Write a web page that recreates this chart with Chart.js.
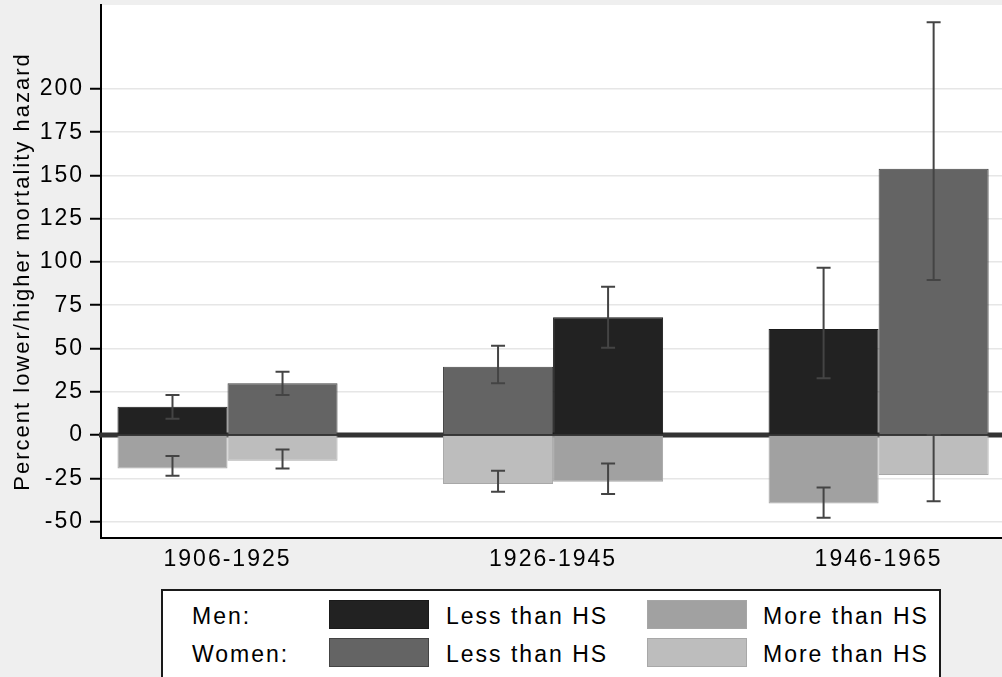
<!DOCTYPE html>
<html>
<head>
<meta charset="utf-8">
<script src="https://cdn.jsdelivr.net/npm/chart.js@4.4.1/dist/chart.umd.min.js"></script>
<style>
    body { margin: 0; background: #efefef; overflow: hidden; font-family: "Liberation Sans", Arial, sans-serif; }
    #wrap { position: relative; width: 1002px; height: 677px; }
    #legendBox { position: absolute; left: 161px; top: 589px; width: 780px; height: 90px; box-sizing: border-box;
                 background: #fff; border: 2px solid #1a1a1a; }
    .lab { position: absolute; font-size: 23px; letter-spacing: 2px; line-height: 29px; color: #000; white-space: nowrap; }
    .sw { position: absolute; width: 100px; height: 29px; box-sizing: border-box; border: 1px solid; }
</style>
</head>
<body>
<div id="wrap">
    <canvas id="myChart" width="1002" height="677"></canvas>
    <div id="legendBox"></div>
</div>

<script>
    const periods = ["1906-1925", "1926-1945", "1946-1965"];

    // estimates and confidence bounds
    const menLess     = [16.4, 68.0, 61.3];
    const menLessLo   = [9.4, 50.5, 32.8];
    const menLessHi   = [23.1, 85.7, 96.7];
    const menMore     = [-19.3, -27.0, -39.5];
    const menMoreLo   = [-23.5, -34.1, -47.8];
    const menMoreHi   = [-12.1, -16.4, -30.3];
    const womenLess   = [29.9, 39.5, 153.9];
    const womenLessLo = [23.1, 29.9, 89.6];
    const womenLessHi = [36.6, 51.6, 238.5];
    const womenMore   = [-14.8, -28.3, -23.1];
    const womenMoreLo = [-19.3, -32.8, -38.2];
    const womenMoreHi = [-8.3, -20.6, 0];

    // which sex sits in the left bar of each period
    const menOnLeft = [true, false, true];

    const yTicks = [-50, -25, 0, 25, 50, 75, 100, 125, 150, 175, 200];

    const series = {
        menLess:   {label: "Less than HS", value: menLess,   lo: menLessLo,   hi: menLessHi,   color: "#222222", border: "#1a1a1a"},
        menMore:   {label: "More than HS", value: menMore,   lo: menMoreLo,   hi: menMoreHi,   color: "#a1a1a1", border: "#a6a6a6"},
        womenLess: {label: "Less than HS", value: womenLess, lo: womenLessLo, hi: womenLessHi, color: "#646464", border: "#444444"},
        womenMore: {label: "More than HS", value: womenMore, lo: womenMoreLo, hi: womenMoreHi, color: "#bdbdbd", border: "#a8a8a8"}
    };

    function pick(side, kind) {
        return periods.map((p, i) => {
            const who = (side === "L") === menOnLeft[i] ? "men" : "women";
            return series[who + kind];
        });
    }

    const slots = [["L", "Less"], ["L", "More"], ["R", "Less"], ["R", "More"]];
    const datasets = slots.map(([side, kind]) => {
        const src = pick(side, kind);
        return {
            stack: side,
            data: src.map((s, i) => ({x: i + 1, y: s.value[i]})),
            lo: src.map((s, i) => s.lo[i]),
            hi: src.map((s, i) => s.hi[i]),
            backgroundColor: src.map(s => s.color),
            borderColor: src.map(s => s.border),
            borderWidth: 1,
            categoryPercentage: 0.676,
            barPercentage: 1
        };
    });

    const spacing = {
        id: "spacing",
        beforeLayout(chart) { chart.ctx.letterSpacing = "2px"; },
        beforeDraw(chart) {
            const ctx = chart.ctx, a = chart.chartArea;
            ctx.letterSpacing = "2px";
            ctx.save();
            ctx.fillStyle = "#fff";
            ctx.fillRect(a.left, a.top, a.right - a.left, a.bottom - a.top);
            ctx.restore();
        }
    };

    const zeroLine = {
        id: "zeroLine",
        beforeDatasetsDraw(chart) {
            const ctx = chart.ctx, y0 = chart.scales.y.getPixelForValue(0);
            ctx.save();
            ctx.strokeStyle = "#333";
            ctx.lineWidth = 5;
            ctx.beginPath();
            ctx.moveTo(chart.chartArea.left - 2, y0);
            ctx.lineTo(chart.chartArea.right, y0);
            ctx.stroke();
            ctx.restore();
        }
    };

    const errorBars = {
        id: "errorBars",
        afterDatasetsDraw(chart) {
            const ctx = chart.ctx, y = chart.scales.y;
            ctx.save();
            ctx.strokeStyle = "#444";
            ctx.lineWidth = 2;
            chart.data.datasets.forEach((ds, d) => {
                chart.getDatasetMeta(d).data.forEach((bar, i) => {
                    const top = y.getPixelForValue(ds.hi[i]);
                    const bot = y.getPixelForValue(ds.lo[i]);
                    ctx.beginPath();
                    ctx.moveTo(bar.x, top); ctx.lineTo(bar.x, bot);
                    ctx.moveTo(bar.x - 7, top); ctx.lineTo(bar.x + 7, top);
                    ctx.moveTo(bar.x - 7, bot); ctx.lineTo(bar.x + 7, bot);
                    ctx.stroke();
                });
            });
            ctx.restore();
        }
    };

    Chart.defaults.font.family = "'Liberation Sans', Arial, sans-serif";
    Chart.defaults.font.size = 23;
    Chart.defaults.color = "#000";

    const myChart = new Chart("myChart", {
        type: "bar",
        data: {datasets: datasets},
        plugins: [spacing, zeroLine, errorBars],
        options: {
            responsive: false,
            animation: false,
            layout: {padding: {top: 5, right: 0, left: 0, bottom: 0}},
            plugins: {legend: {display: false}, tooltip: {enabled: false}},
            scales: {
                x: {
                    type: "linear",
                    min: 0.6114,
                    max: 3.379,
                    offset: false,
                    afterBuildTicks: s => { s.ticks = periods.map((p, i) => ({value: i + 1})); },
                    afterFit: s => { s.height = 139; s.paddingLeft = 0; s.paddingRight = 0; },
                    ticks: {callback: (v, i) => periods[i], padding: 8, maxRotation: 0, autoSkip: false},
                    grid: {drawOnChartArea: false, drawTicks: false, offset: false},
                    border: {color: "#000", width: 2}
                },
                y: {
                    stacked: true,
                    min: -59.5,
                    max: 248.5,
                    afterBuildTicks: s => { s.ticks = yTicks.map(v => ({value: v})); },
                    afterFit: s => { s.width = 101; s.paddingTop = 0; s.paddingBottom = 0; },
                    ticks: {padding: 6},
                    grid: {color: "#e6e6e6", lineWidth: 1.5, tickColor: "#000", tickLength: 11, tickWidth: 2},
                    border: {color: "#000", width: 2},
                    title: {display: true, text: "Percent lower/higher mortality hazard", font: {size: 22}, padding: {top: 10, bottom: 0}}
                }
            }
        }
    });

    // legend: one row per sex, two swatches each
    const legendRows = [["Men:", "menLess", "menMore"], ["Women:", "womenLess", "womenMore"]];
    const wrap = document.getElementById("wrap");
    legendRows.forEach((row, r) => {
        const top = 600 + r * 38;
        const add = (cls, left, t, text, s) => {
            const el = document.createElement("div");
            el.className = cls;
            el.style.left = left + "px";
            el.style.top = t + "px";
            if (text) el.textContent = text;
            if (s) { el.style.background = s.color; el.style.borderColor = s.border; }
            wrap.appendChild(el);
        };
        add("lab", 192, top + 2, row[0]);
        add("sw", 329, top, null, series[row[1]]);
        add("lab", 446, top + 2, series[row[1]].label);
        add("sw", 647, top, null, series[row[2]]);
        add("lab", 763, top + 2, series[row[2]].label);
    });
</script>
</body>
</html>
